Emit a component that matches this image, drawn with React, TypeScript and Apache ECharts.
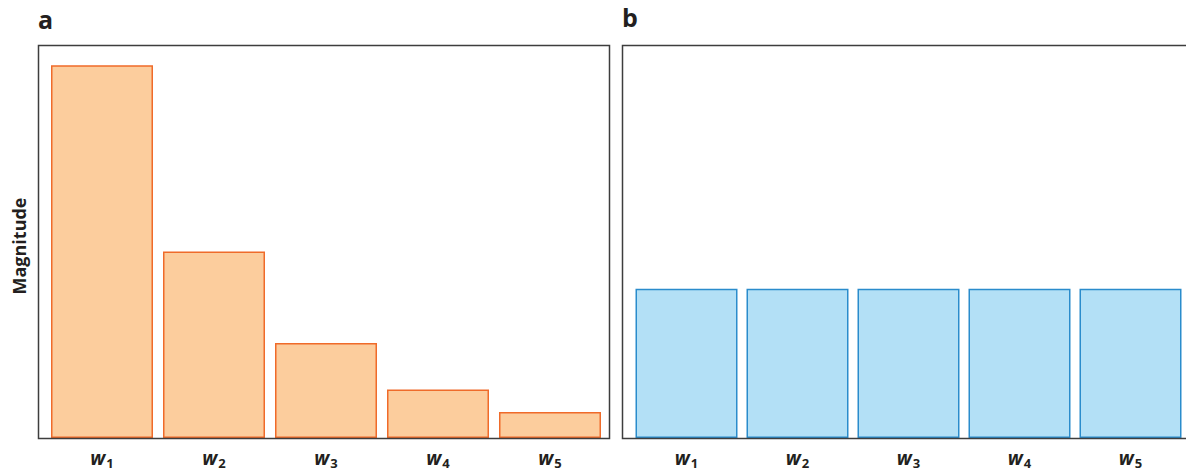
import React, { useEffect, useRef } from "react";
import * as echarts from "echarts";

const categories = ["1", "2", "3", "4", "5"];
const valuesA = [1.0, 0.5, 0.255, 0.13, 0.07];
const valuesB = [0.4, 0.4, 0.4, 0.4, 0.4];
const yMax = 1.054;

export default function App() {
  const ref = useRef<HTMLDivElement>(null);
  useEffect(() => {
    if (!ref.current) return;
    const chart = echarts.init(ref.current, null, { renderer: "svg" });
    const labelStyle = {
      interval: 0,
      margin: 9,
      formatter: (v: string) => `{w|w}{s|${v}}`,
      rich: {
        w: { fontFamily: "Open Sans", fontWeight: "bold", fontStyle: "italic", fontSize: 19, color: "#231f20" },
        s: { fontFamily: "Open Sans", fontWeight: "bold", fontSize: 13, color: "#231f20", padding: [9, 0, 0, 1] },
      },
    };
    const xBase = {
      type: "category" as const,
      data: categories,
      axisLine: { show: false },
      axisTick: { show: false },
      axisLabel: labelStyle,
    };
    const yBase = { type: "value" as const, min: 0, max: yMax, show: false, splitLine: { show: false } };
    chart.setOption({
      animation: false,
      grid: [
        { left: 46, width: 560, top: 45, height: 393 },
        { left: 631, width: 558, top: 45, height: 393 },
      ],
      xAxis: [
        { ...xBase, gridIndex: 0 },
        { ...xBase, gridIndex: 1 },
      ],
      yAxis: [
        { ...yBase, gridIndex: 0 },
        { ...yBase, gridIndex: 1 },
      ],
      series: [
        {
          type: "bar",
          xAxisIndex: 0,
          yAxisIndex: 0,
          data: valuesA,
          barWidth: 102,
          itemStyle: { color: "#fccd9d", borderColor: "#ef6b2a", borderWidth: 1.5 },
        },
        {
          type: "bar",
          xAxisIndex: 1,
          yAxisIndex: 1,
          data: valuesB,
          barWidth: 102,
          itemStyle: { color: "#b3e0f6", borderColor: "#2a8ccc", borderWidth: 1.5 },
        },
      ],
      graphic: [
        {
          type: "rect",
          shape: { x: 38.5, y: 45.5, width: 571, height: 393 },
          style: { fill: "none", stroke: "#3d3d3d", lineWidth: 1.5 },
          z: 10,
        },
        {
          type: "rect",
          shape: { x: 622.5, y: 45.5, width: 600, height: 393 },
          style: { fill: "none", stroke: "#3d3d3d", lineWidth: 1.5 },
          z: 10,
        },
        {
          type: "text",
          left: 38,
          top: 6,
          style: { text: "a", fontFamily: "Open Sans", fontWeight: "bold", fontSize: 25, fill: "#231f20" },
        },
        {
          type: "text",
          left: 622,
          top: 4,
          style: { text: "b", fontFamily: "Open Sans", fontWeight: "bold", fontSize: 25, fill: "#231f20" },
        },
        {
          type: "text",
          x: 19,
          y: 246,
          rotation: Math.PI / 2,
          style: {
            text: "Magnitude",
            fontFamily: "Open Sans",
            fontWeight: "bold",
            fontSize: 18,
            fill: "#231f20",
            align: "center",
            verticalAlign: "middle",
          },
        },
      ],
    });
    return () => chart.dispose();
  }, []);
  return (
    <div
      ref={ref}
      style={{ position: "fixed", left: 0, top: 0, width: 1186, height: 473, background: "#fff" }}
    />
  );
}
